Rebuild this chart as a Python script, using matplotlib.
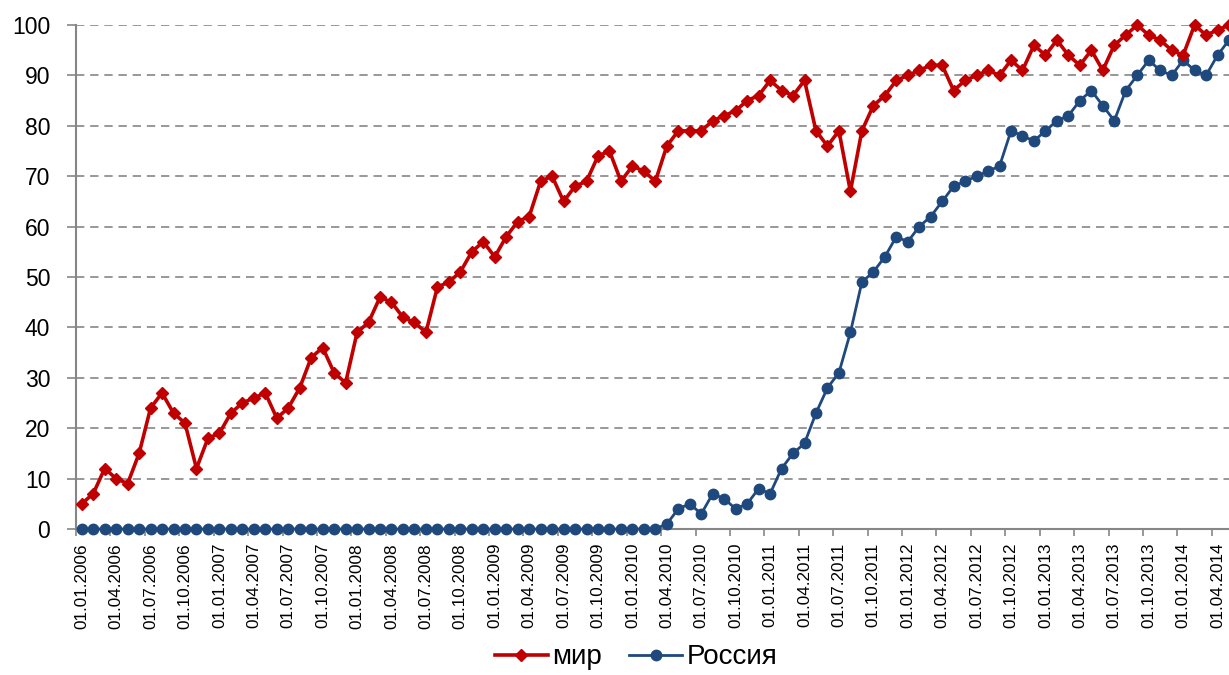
import matplotlib
matplotlib.use('Agg')
import matplotlib.pyplot as plt
import numpy as np
import pandas as pd

# 1. Data (monthly, 01.01.2006 - 01.05.2014)
months = pd.date_range('2006-01-01', '2014-05-01', freq='MS')

mir = [5, 7, 12, 10, 9, 15, 24, 27, 23, 21,
       12, 18, 19, 23, 25, 26, 27, 22, 24, 28,
       34, 36, 31, 29, 39, 41, 46, 45, 42, 41,
       39, 48, 49, 51, 55, 57, 54, 58, 61, 62,
       69, 70, 65, 68, 69, 74, 75, 69, 72, 71,
       69, 76, 79, 79, 79, 81, 82, 83, 85, 86,
       89, 87, 86, 89, 79, 76, 79, 67, 79, 84,
       86, 89, 90, 91, 92, 92, 87, 89, 90, 91,
       90, 93, 91, 96, 94, 97, 94, 92, 95, 91,
       96, 98, 100, 98, 97, 95, 94, 100, 98, 99,
       100]

russia = [0, 0, 0, 0, 0, 0, 0, 0, 0, 0,
          0, 0, 0, 0, 0, 0, 0, 0, 0, 0,
          0, 0, 0, 0, 0, 0, 0, 0, 0, 0,
          0, 0, 0, 0, 0, 0, 0, 0, 0, 0,
          0, 0, 0, 0, 0, 0, 0, 0, 0, 0,
          0, 1, 4, 5, 3, 7, 6, 4, 5, 8,
          7, 12, 15, 17, 23, 28, 31, 39, 49, 51,
          54, 58, 57, 60, 62, 65, 68, 69, 70, 71,
          72, 79, 78, 77, 79, 81, 82, 85, 87, 84,
          81, 87, 90, 93, 91, 90, 93, 91, 90, 94,
          97]

labels = [d.strftime('%d.%m.%Y') for d in months]
x = np.arange(len(months))

# 2. Figure
plt.rcParams['font.family'] = ['Liberation Sans', 'DejaVu Sans']
fig = plt.figure(figsize=(12.29, 6.75), dpi=100)
ax = fig.add_axes([76 / 1229, 146 / 675, 1 - 76 / 1229, 504 / 675])

grid_col = '#868686'
ax.plot(x, mir, color='#C00000', lw=2.6, marker='D', ms=6.2, label='мир', clip_on=False, zorder=4)
ax.plot(x, russia, color='#1F497D', lw=2.0, marker='o', ms=7.5, label='Россия', clip_on=False, zorder=3)

# 3. Axes
ax.set_ylim(0, 100)
ax.set_xlim(-0.43, 100)
ax.set_yticks(range(0, 101, 10))
ax.yaxis.grid(True, color=grid_col, ls=(0, (5, 3.5)), lw=1.2)
ax.set_axisbelow(True)
ax.tick_params(axis='y', labelsize=16.5, length=6.5, width=1.2, color=grid_col, pad=12)

ax.set_xticks(x[::3])
ax.set_xticklabels(labels[::3], rotation=90, fontsize=12.3)
ax.set_xticks(np.arange(-0.5, 101, 3), minor=True)
ax.tick_params(axis='x', which='major', length=0, pad=10)
ax.tick_params(axis='x', which='minor', length=5, width=1.2, color=grid_col)

for s in ['top', 'right']:
    ax.spines[s].set_visible(False)
for s in ['left', 'bottom']:
    ax.spines[s].set_color(grid_col)
    ax.spines[s].set_linewidth(1.5)

# 4. Legend
fig.legend(loc='center', bbox_to_anchor=(0.5175, 0.026), ncol=2, frameon=False,
           prop={'size': 20},
           handlelength=1.9, handletextpad=0.15, columnspacing=1.0, borderpad=0)

plt.savefig('out.png', dpi=100)
